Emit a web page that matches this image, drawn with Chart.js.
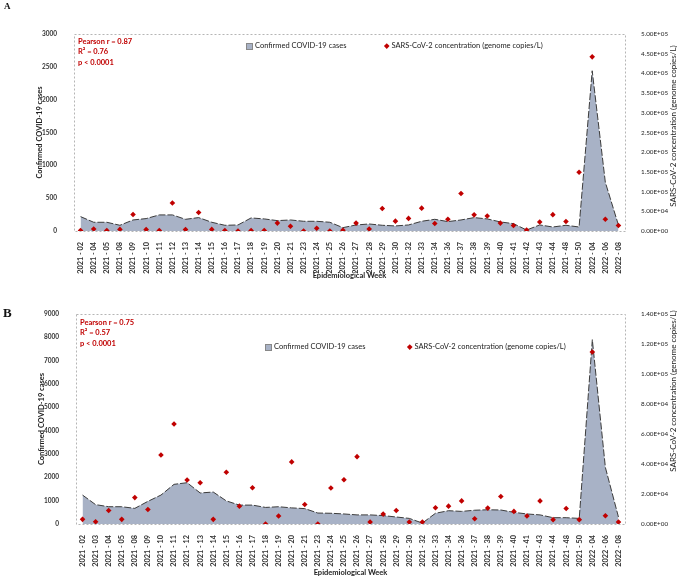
<!DOCTYPE html>
<html>
<head>
<meta charset="utf-8">
<script src="https://cdn.jsdelivr.net/npm/chart.js@4.4.0/dist/chart.umd.min.js"></script>
<style>
    body { margin: 0; background: #fff; width: 677px; height: 577px; position: relative; overflow: hidden; font-family: Lato, 'Open Sans', sans-serif; }
    canvas { position: absolute; left: 0; }
    .lbl { position: absolute; white-space: nowrap; }
    .tag { font-family: 'Liberation Serif', serif; font-weight: bold; color: #111; }
    .stats { color: #C00000; font-size: 7.5px; font-weight: bold; line-height: 10.3px; }
    .leg { font-size: 7.5px; color: #222; line-height: 10px; }
    .sq { display: inline-block; width: 5px; height: 5px; background: #A8B2C6; border: 1px solid #888; vertical-align: middle; margin-right: 2px; }
    .dm { display: inline-block; width: 3.5px; height: 3.5px; background: #C00000; transform: rotate(45deg); vertical-align: middle; margin-right: 3px; }
    .rtitle { font-size: 8px; color: #222; transform: translate(-50%, -50%) rotate(-90deg); }
</style>
</head>
<body>
<canvas id="chartA" width="677" height="285" style="top:0"></canvas>
<canvas id="chartB" width="677" height="292" style="top:285px"></canvas>

<div class="lbl tag" style="left:4px;top:1px;font-size:9px">A</div>
<div class="lbl stats" style="left:78px;top:37px">Pearson r = 0.87<br>R² = 0.76<br>p &lt; 0.0001</div>
<div class="lbl leg" style="left:246px;top:41px"><span class="sq"></span>Confirmed COVID-19 cases</div>
<div class="lbl leg" style="left:385px;top:41px"><span class="dm"></span>SARS-CoV-2 concentration (genome copies/L)</div>
<div class="lbl rtitle" style="left:673px;top:126px">SARS-CoV-2 concentration (genome copies/L)</div>

<div class="lbl tag" style="left:3px;top:305px;font-size:13px">B</div>
<div class="lbl stats" style="left:80px;top:318px">Pearson r = 0.75<br>R² = 0.57<br>p &lt; 0.0001</div>
<div class="lbl leg" style="left:265px;top:342px"><span class="sq"></span>Confirmed COVID-19 cases</div>
<div class="lbl leg" style="left:408px;top:342px"><span class="dm"></span>SARS-CoV-2 concentration (genome copies/L)</div>
<div class="lbl rtitle" style="left:673px;top:391px">SARS-CoV-2 concentration (genome copies/L)</div>

<script>
    // panel A
    var weeksA = ['2021 - 02', '2021 - 04', '2021 - 05', '2021 - 08', '2021 - 09', '2021 - 10', '2021 - 11', '2021 - 12', '2021 - 13', '2021 - 14',
        '2021 - 15', '2021 - 16', '2021 - 17', '2021 - 18', '2021 - 19', '2021 - 20', '2021 - 21', '2021 - 23', '2021 - 24', '2021 - 25',
        '2021 - 26', '2021 - 27', '2021 - 28', '2021 - 29', '2021 - 30', '2021 - 32', '2021 - 33', '2021 - 34', '2021 - 36', '2021 - 37',
        '2021 - 38', '2021 - 39', '2021 - 40', '2021 - 41', '2021 - 42', '2021 - 43', '2021 - 44', '2021 - 48', '2021 - 50',
        '2022 - 04', '2022 - 06', '2022 - 08'];
    var casesA = [219, 133, 133, 87, 168, 189, 245, 245, 178, 204, 133, 87, 92, 199, 184, 158, 168, 148, 148, 133,
        51, 92, 107, 87, 77, 92, 148, 178, 143, 168, 204, 184, 138, 112, 15, 92, 61, 87, 61,
        2440, 743, 90];
    var concA = [1000, 5000, 1000, 4000, 42000, 3500, 1000, 71000, 3500, 47000, 4000, 1000, 0, 1000, 1000, 20000, 12000, 0, 7000, 0,
        2000, 20000, 5000, 57000, 25000, 32000, 58000, 19000, 30000, 95000, 41000, 38000, 20000, 14000, 2500, 23000, 41500, 24000, 149000,
        442000, 30000, 14000];
    var leftMaxA = 3000, leftStepA = 500;
    var rightMaxA = 500000, rightStepA = 50000;

    // panel B
    var weeksB = ['2021 - 02', '2021 - 03', '2021 - 04', '2021 - 05', '2021 - 08', '2021 - 09', '2021 - 10', '2021 - 11', '2021 - 12', '2021 - 13',
        '2021 - 14', '2021 - 15', '2021 - 16', '2021 - 17', '2021 - 18', '2021 - 19', '2021 - 20', '2021 - 21', '2021 - 23', '2021 - 24',
        '2021 - 25', '2021 - 26', '2021 - 27', '2021 - 28', '2021 - 29', '2021 - 30', '2021 - 32', '2021 - 33', '2021 - 34', '2021 - 36',
        '2021 - 37', '2021 - 38', '2021 - 39', '2021 - 40', '2021 - 41', '2021 - 43', '2021 - 44', '2021 - 48', '2021 - 50',
        '2022 - 04', '2022 - 06', '2022 - 08'];
    var casesB = [1240, 830, 740, 740, 670, 970, 1240, 1700, 1770, 1330, 1370, 990, 810, 810, 710, 740, 690, 660, 470, 460,
        430, 390, 390, 360, 300, 240, 40, 460, 570, 540, 590, 610, 600, 500, 430, 390, 270, 270, 240,
        7900, 2420, 300];
    var concB = [3100, 1500, 9000, 3100, 17600, 9700, 46000, 66700, 29300, 27500, 3100, 34500, 11900, 24200, 0, 5300, 41400, 13000, 0, 24000,
        29500, 44900, 1300, 6600, 9000, 1300, 1300, 10800, 11900, 15400, 3500, 10600, 18300, 8400, 5300, 15400, 2900, 10300, 2900,
        114700, 5500, 1300];
    var leftMaxB = 9000, leftStepB = 1000;
    var rightMaxB = 140000, rightStepB = 20000;

    Chart.defaults.font.family = 'Lato, "Open Sans", sans-serif';
    Chart.defaults.color = '#333';

    // excel style 5.00E+05
    function sci(v) {
        if (v < 1) return '0.00E+00';
        var e = Math.floor(Math.log10(v) + 1e-9);
        var m = (v / Math.pow(10, e)).toFixed(2);
        return m + 'E+' + (e < 10 ? '0' : '') + e;
    }

    var frame = {
        id: 'frame',
        beforeDatasetsDraw: function (chart) {
            var a = chart.chartArea, ctx = chart.ctx;
            ctx.save();
            ctx.strokeStyle = '#b5b5b5';
            ctx.lineWidth = 1;
            ctx.setLineDash([2, 2]);
            ctx.strokeRect(Math.round(a.left) + 0.5, Math.round(a.top) + 0.5, Math.round(a.right - a.left), Math.round(a.bottom - a.top));
            ctx.restore();
        }
    };

    function makeChart(id, weeks, cases, conc, lim, box) {
        var tickFont = { size: 6.5, weight: 'bold' };
        return new Chart(document.getElementById(id), {
            data: {
                labels: weeks,
                datasets: [{
                    type: 'line',
                    label: 'SARS-CoV-2 concentration (genome copies/L)',
                    data: conc,
                    yAxisID: 'y2',
                    showLine: false,
                    pointStyle: 'rectRot',
                    pointRadius: 2.8,
                    pointBackgroundColor: '#C00000',
                    pointBorderColor: '#C00000',
                    pointBorderWidth: 0,
                    order: 1
                }, {
                    type: 'line',
                    label: 'Confirmed COVID-19 cases',
                    data: cases,
                    yAxisID: 'y',
                    fill: 'origin',
                    backgroundColor: '#A8B2C6',
                    borderColor: '#3c3c3c',
                    borderWidth: 1,
                    borderDash: [7, 2],
                    pointRadius: 0,
                    tension: 0,
                    order: 2
                }]
            },
            options: {
                responsive: false,
                animation: false,
                layout: { padding: { top: box.top, left: 0, right: 0, bottom: 0 } },
                plugins: { legend: { display: false }, tooltip: { enabled: false } },
                scales: {
                    x: {
                        type: 'category',
                        offset: true,
                        grid: { display: false },
                        border: { display: false },
                        ticks: { autoSkip: false, minRotation: 90, maxRotation: 90, padding: 3, font: { size: 7.3, weight: 'bold' }, color: '#333' },
                        title: { display: true, text: 'Epidemiological Week', font: { size: 7.5, weight: 'bold' }, color: '#222', padding: { top: 0, bottom: box.xTitle } },
                        afterFit: function (s) { s.height = box.xh; }
                    },
                    y: {
                        position: 'left',
                        min: 0,
                        max: lim.leftMax,
                        grid: { display: false },
                        border: { display: false },
                        ticks: { stepSize: lim.leftStep, padding: 9, font: tickFont, color: '#333', callback: function (v) { return String(v); } },
                        title: { display: true, text: 'Confirmed COVID-19 cases', font: { size: 7.5, weight: 'bold' }, color: '#222', padding: { top: box.yTitle, bottom: 0 } },
                        afterFit: function (s) { s.width = box.left; }
                    },
                    y2: {
                        position: 'right',
                        min: 0,
                        max: lim.rightMax,
                        grid: { display: false },
                        border: { display: false },
                        ticks: { stepSize: lim.rightStep, padding: 8, font: { size: 6.3 }, color: '#222', callback: function (v) { return sci(v); } },
                        afterFit: function (s) { s.width = 52; }
                    }
                }
            },
            plugins: [frame]
        });
    }

    makeChart('chartA', weeksA, casesA, concA,
        { leftMax: leftMaxA, leftStep: leftStepA, rightMax: rightMaxA, rightStep: rightStepA },
        { top: 34, left: 74, xh: 54, xTitle: 5, yTitle: 35 });
    makeChart('chartB', weeksB, casesB, concB,
        { leftMax: leftMaxB, leftStep: leftStepB, rightMax: rightMaxB, rightStep: rightStepB },
        { top: 29, left: 76, xh: 53, xTitle: 0, yTitle: 37 });
</script>
</body>
</html>
